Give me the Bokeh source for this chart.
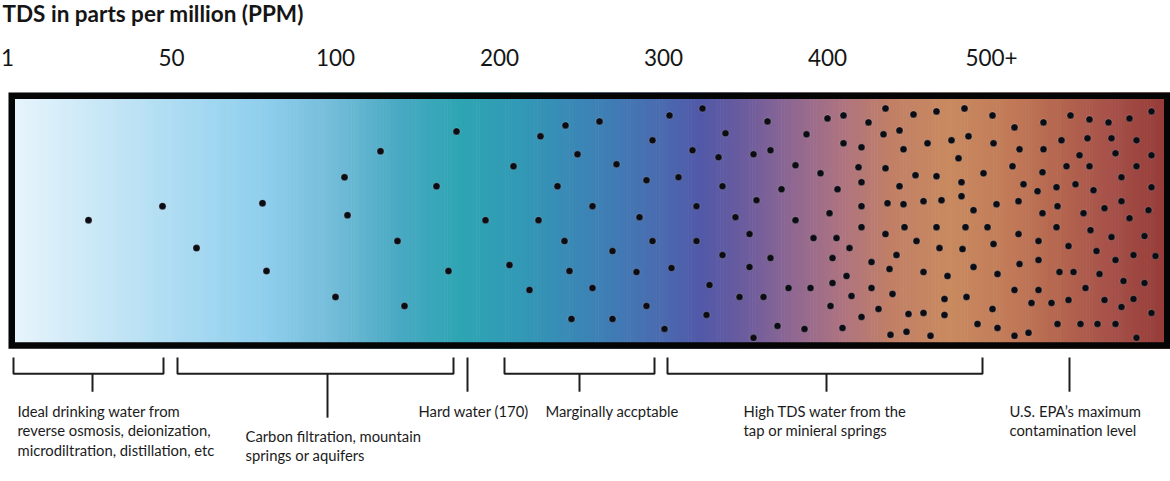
import numpy as np
from bokeh.plotting import figure
from bokeh.models import Range1d, FixedTicker
from bokeh.core.properties import value
from bokeh.embed import file_html
from bokeh.resources import INLINE

# ---------------- data ----------------
title_text = "TDS in parts per million (PPM)"
tick_labels = ["1", "50", "100", "200", "300", "400", "500+"]
tick_pos = [0, 164, 328, 492, 656, 820, 984]   # position along the TDS scale

# dissolved-solids "particles" (position along scale, height inside band)
dot_x = [81, 155, 189, 255, 259, 337, 340, 373, 328, 390, 397,
         449, 429, 441, 478, 506, 502, 522, 531, 533, 550, 558, 570, 557, 562, 564,
         585, 585, 592, 609, 605, 605,
         662, 695, 645, 685, 718, 711, 760, 746, 763, 639, 671, 715, 774, 749, 689,
         632, 728, 742, 645, 689, 715, 763, 629, 664, 742, 702, 732, 756, 639, 699,
         657, 746, 770,
         820, 836, 861, 878, 906, 799, 836, 854, 876, 892, 896, 788, 813, 851, 878,
         908, 854, 830, 892, 854, 880, 896, 822, 788, 854, 878, 897, 909, 806, 829,
         842, 825, 864, 889, 882, 839, 825, 781, 803, 864, 844, 885, 823, 871, 901,
         854, 797, 835, 883, 899,
         929, 957, 985, 1007, 1036, 920, 944, 961, 986, 1012, 1036, 951, 1005, 976,
         1035, 929, 954, 1016, 1030, 916, 934, 954, 966, 989, 1011, 1035, 929, 958,
         980, 1011, 932, 955, 986, 1031, 916, 940, 966, 990, 1012, 1031, 1007, 1031,
         1024, 1044, 937, 959, 916, 937, 985, 970, 990, 923, 1007, 1021,
         1063, 1082, 1101, 1122, 1144, 1054, 1080, 1104, 1129, 1072, 1108, 1144,
         1059, 1082, 1129, 1114, 1049, 1068, 1086, 1144, 1050, 1076, 1097, 1114,
         1122, 1141, 1049, 1083, 1104, 1137, 1061, 1089, 1108, 1126, 1148, 1052,
         1066, 1092, 1116, 1137, 1078, 1061, 1097, 1126, 1114, 1144, 1050, 1073,
         1090, 1108, 1129]
dot_y = [123, 137, 95, 140, 72, 166, 128, 192, 46, 102, 37,
         212, 157, 72, 123, 177, 78, 53, 123, 207, 157, 218, 189, 102, 72, 24,
         137, 55, 222, 179, 92, 24,
         228, 235, 203, 193, 210, 186, 222, 189, 193, 163, 166, 157, 154, 143, 137,
         126, 126, 109, 102, 102, 88, 85, 71, 75, 76, 58, 46, 46, 37, 28,
         14, 5, 17,
         225, 228, 221, 235, 229, 209, 200, 196, 209, 213, 194, 178, 170, 176, 175,
         168, 161, 154, 157, 137, 140, 139, 130, 123, 116, 109, 116, 102, 105, 105,
         95, 85, 81, 88, 74, 67, 60, 55, 55, 55, 47, 49, 37, 34, 29,
         26, 14, 15, 8, 11,
         232, 235, 228, 216, 221, 200, 203, 207, 200, 194, 194, 185, 177, 170,
         171, 167, 161, 159, 152, 142, 143, 147, 133, 139, 142, 130, 116, 116,
         116, 109, 95, 94, 99, 102, 71, 67, 76, 69, 79, 83, 53, 53,
         40, 40, 44, 46, 30, 28, 34, 19, 15, 7, 7, 10,
         228, 224, 221, 225, 232, 203, 205, 205, 203, 188, 190, 188,
         177, 177, 177, 166, 156, 159, 153, 156, 137, 130, 135, 142,
         125, 133, 116, 113, 106, 107, 97, 92, 83, 88, 87, 71,
         71, 69, 62, 60, 55, 43, 43, 44, 36, 30, 19, 19,
         19, 19, 5]

range_labels = ["Ideal drinking water from\nreverse osmosis, deionization,\nmicrodiltration, distillation, etc",
                "Carbon filtration, mountain\nsprings or aquifers",
                "Hard water (170)",
                "Marginally accptable",
                "High TDS water from the\ntap or minieral springs",
                "U.S. EPA\u2019s maximum\ncontamination level"]
range_start = [6, 170, 460, 497, 660, 1062]
range_end = [156, 446, 460, 647, 975, 1062]
range_mark = [85, 320, 460, 572, 819, 1062]

# ---------------- layout / style ----------------
X0, X1 = -7, 1163
Y0, Y1 = -139, 262
BAND_L, BAND_R, BAND_B, BAND_T = 1, 1163, -6, 251
BORDER = 6.5
label_left = [10, 238, 411, 538, 736, 1002]
label_base = [-68, -93, -68, -68, -68, -68]
stem_bottom = [-49, -75, -49, -49, -49, -49]
BR_TOP, BR_MID = -14.7, -31
LINE_H = 19.6

grad_stops_x = [8, 93, 193, 263, 328, 393, 453, 513, 583, 643, 693, 738,
                783, 833, 883, 943, 1003, 1053, 1103, 1158]
grad_stops_c = ["#e6f4fc", "#c8e7f6", "#a4d8f1", "#8dcdec", "#72bcd8", "#48a9c2",
                "#2ea5b3", "#3299b6", "#3c83b6", "#486fb1", "#5159a8", "#6c5c9e",
                "#8e6792", "#ad7381", "#c17f66", "#c98a5f", "#c17a58", "#b4654e",
                "#a6514a", "#963b38"]

FONT = "Lato"

p = figure(width=1170, height=481, output_backend="svg", toolbar_location=None,
           x_range=Range1d(X0, X1), y_range=Range1d(Y0, Y1),
           x_axis_location="above", y_axis_location=None,
           min_border_left=0, min_border_right=0, min_border_bottom=0,
           min_border_top=80)
p.outline_line_color = None
p.xgrid.visible = False
p.ygrid.visible = False
p.background_fill_color = "white"
p.border_fill_color = "white"

# title
p.title.text = title_text
p.title.text_font = FONT
p.title.text_font_style = "bold"
p.title.text_font_size = "22.5px"
p.title.text_color = "#151515"
p.title.align = "left"
p.title.offset = 2
p.title.standoff = -5

# scale labels
ax = p.xaxis[0]
ax.ticker = FixedTicker(ticks=tick_pos)
ax.major_label_overrides = {t: l for t, l in zip(tick_pos, tick_labels)}
ax.axis_line_color = None
ax.major_tick_line_color = None
ax.minor_tick_line_color = None
ax.major_label_text_font = FONT
ax.major_label_text_font_size = "22.5px"
ax.major_label_text_color = "#151515"
ax.major_label_standoff = 10
# blank axis label used only as vertical spacing between title and scale
ax.axis_label = " "
ax.axis_label_text_font_size = "8px"
ax.axis_label_standoff = 9

# gradient band
def hex2rgb(h):
    return np.array([int(h[i:i + 2], 16) for i in (1, 3, 5)], dtype=float)

rgb = np.array([hex2rgb(c) for c in grad_stops_c])
n = 400
edges = np.linspace(BAND_L, BAND_R, n + 1)
mids = 0.5 * (edges[:-1] + edges[1:])
cols = []
for m in mids:
    r, g, b = (np.interp(m, grad_stops_x, rgb[:, k]) for k in range(3))
    cols.append("#%02x%02x%02x" % (int(round(r)), int(round(g)), int(round(b))))
p.quad(left=edges[:-1], right=edges[1:] + 0.6, bottom=BAND_B, top=BAND_T,
       fill_color=cols, line_color=None)

# particles
p.scatter(dot_x, dot_y, size=7, fill_color="#0c0c14", line_color="#ffffff",
          line_alpha=0.25, line_width=0.8)

# band border
p.quad(left=BAND_L + BORDER / 2, right=BAND_R - BORDER / 2,
       bottom=BAND_B + BORDER / 2, top=BAND_T - BORDER / 2,
       fill_color=None, line_color="#050505", line_width=BORDER, line_join="miter")

# brackets
xs, ys = [], []
for s, e, m, sb in zip(range_start, range_end, range_mark, stem_bottom):
    if s != e:
        xs.append([s, s, e, e]); ys.append([BR_TOP, BR_MID, BR_MID, BR_TOP])
        xs.append([m, m]); ys.append([BR_MID, sb])
    else:
        xs.append([m, m]); ys.append([BR_TOP, sb])
p.multi_line(xs, ys, line_color="#1e1e1e", line_width=2)

# range labels
tx, ty, tt = [], [], []
for lab, lx, lb in zip(range_labels, label_left, label_base):
    for i, line in enumerate(lab.split("\n")):
        tx.append(lx); ty.append(lb - i * LINE_H); tt.append(line)
p.text(x=tx, y=ty, text=tt, text_font=value(FONT), text_font_size=value("14.8px"),
       text_baseline="alphabetic", text_align="left", text_color="#1b1b1b")

open("out.html", "w").write(file_html(p, INLINE))
